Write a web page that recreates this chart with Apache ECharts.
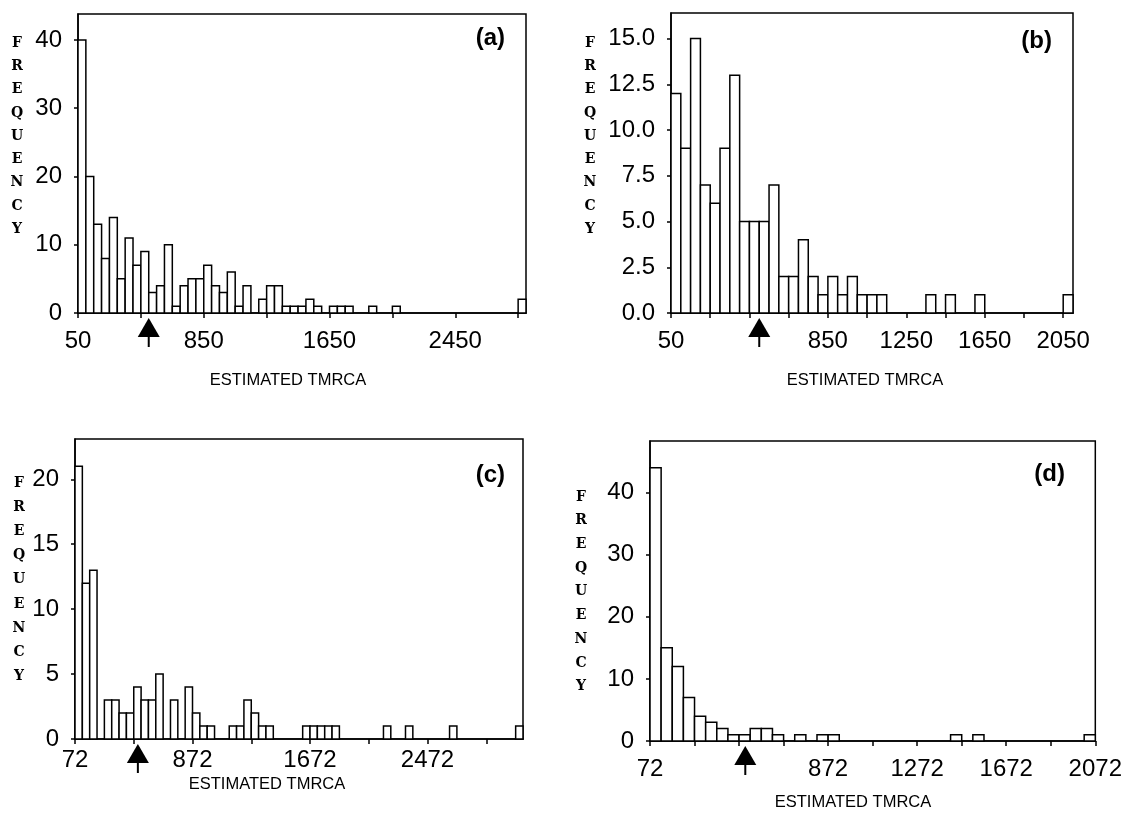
<!DOCTYPE html>
<html>
<head>
<meta charset="utf-8">
<script src="https://cdn.jsdelivr.net/npm/echarts@6/dist/echarts.min.js"></script>
<style>
  html, body { margin: 0; padding: 0; background: #fff; }
  #chart { width: 1125px; height: 821px; }
</style>
</head>
<body>
<div id="chart"></div>
<script>
// ---- data ----
const binWidth = 50;

const startA = 50;
const countsA = [40,20,13,8,14,5,11,7,9,3,4,10,1,4,5,5,7,4,3,6,1,4,0,2,4,4,1,1,1,2,1,0,1,1,1,0,0,1,0,0,1,
  0,0,0,0,0,0,0,0,0,0,0,0,0,0,0,2];
const startB = 50;
const countsB = [12,9,15,7,6,9,13,5,5,5,7,2,2,4,2,1,2,1,2,1,1,1,0,0,0,0,1,0,1,0,0,1,0,0,0,0,0,0,0,0,1];
const startC = 72;
const countsC = [21,12,13,0,3,3,2,2,4,3,3,5,0,3,0,4,2,1,1,0,0,1,1,3,2,1,1,0,0,0,0,1,1,1,1,1,0,0,0,0,0,0,1,0,0,1,
  0,0,0,0,0,1,0,0,0,0,0,0,0,0,1];
const startD = 72;
const countsD = [44,15,12,7,4,3,2,1,1,2,2,1,0,1,0,1,1,0,0,0,0,0,0,0,0,0,0,1,0,1,0,0,0,0,0,0,0,0,0,1];

const arrowValues = [500, 500, 500, 500];

const xTicksA = [50,450,850,1250,1650,2050,2450,2850];
const xLabelsA = [50,850,1650,2450];
const xTicksB = [50,250,450,650,850,1050,1250,1450,1650,1850,2050];
const xLabelsB = [50,850,1250,1650,2050];
const xTicksC = [72,472,872,1272,1672,2072,2472,2872];
const xLabelsC = [72,872,1672,2472];
const xTicksD = [72,272,472,672,872,1072,1272,1472,1672,1872,2072];
const xLabelsD = [72,872,1272,1672,2072];

const yTicksA = [0,10,20,30,40];
const yTicksB = [0,2.5,5,7.5,10,12.5,15];
const yTicksC = [0,5,10,15,20];
const yTicksD = [0,10,20,30,40];

const panelLetters = ['(a)','(b)','(c)','(d)'];
const yName = 'FREQUENCY';
const xName = 'ESTIMATED TMRCA';

// ---- layout ----
const panels = [
  {start:startA, counts:countsA, xmin:50, xmax:2900, ymax:43.8, xt:xTicksA, xl:xLabelsA, yt:yTicksA, yfmt:v=>String(v), xmargin:16,
   grid:{left:78, top:14, width:448, height:299}, yname:{x:17, y:43, lh:23.3}, xname:{x:288, y:380}, letter:{x:505, y:38}},
  {start:startB, counts:countsB, xmin:50, xmax:2100, ymax:16.4, xt:xTicksB, xl:xLabelsB, yt:yTicksB, yfmt:v=>v.toFixed(1), xmargin:16,
   grid:{left:671, top:13, width:402, height:300}, yname:{x:590, y:43, lh:23.3}, xname:{x:865, y:380}, letter:{x:1052, y:41}},
  {start:startC, counts:countsC, xmin:72, xmax:3122, ymax:23.1, xt:xTicksC, xl:xLabelsC, yt:yTicksC, yfmt:v=>String(v), xmargin:9,
   grid:{left:75, top:439, width:448, height:300}, yname:{x:19, y:483, lh:24.2}, xname:{x:267, y:784}, letter:{x:505, y:475}},
  {start:startD, counts:countsD, xmin:72, xmax:2072, ymax:48.3, xt:xTicksD, xl:xLabelsD, yt:yTicksD, yfmt:v=>String(v), xmargin:16,
   grid:{left:650, top:441, width:446, height:300}, yname:{x:581, y:497, lh:23.7}, xname:{x:853, y:802}, letter:{x:1065, y:474}}
];

const tickFont = '"Liberation Sans", Arial, sans-serif';
const grids = [], xAxes = [], yAxes = [], series = [], graphics = [];

function binData(start, counts) {
  const out = [];
  counts.forEach((c, i) => { if (c > 0) out.push([start + i * binWidth, start + (i + 1) * binWidth, c]); });
  return out;
}

panels.forEach((p, i) => {
  grids.push(Object.assign({show:true, borderColor:'#000', borderWidth:1.5, backgroundColor:'transparent'}, p.grid));
  xAxes.push({
    type:'value', gridIndex:i, min:p.xmin, max:p.xmax,
    axisLine:{show:true, onZero:false, lineStyle:{color:'#000', width:1.5}},
    axisTick:{show:true, length:5, customValues:p.xt, lineStyle:{color:'#000', width:1.5}},
    axisLabel:{show:true, customValues:p.xl, color:'#000', fontSize:24, fontFamily:tickFont, margin:p.xmargin,
      formatter:v=>String(v)},
    splitLine:{show:false}
  });
  yAxes.push({
    type:'value', gridIndex:i, min:0, max:p.ymax,
    axisLine:{show:true, lineStyle:{color:'#000', width:1.5}},
    axisTick:{show:true, length:4, customValues:p.yt, lineStyle:{color:'#000', width:1.5}},
    axisLabel:{show:true, customValues:p.yt, color:'#000', fontSize:24, fontFamily:tickFont, margin:16, formatter:p.yfmt},
    splitLine:{show:false}
  });
  series.push({
    type:'custom', xAxisIndex:i, yAxisIndex:i, data:binData(p.start, p.counts),
    renderItem:function(params, api){
      const a = api.coord([api.value(0), api.value(2)]);
      const b = api.coord([api.value(1), 0]);
      return {type:'rect', shape:{x:a[0], y:a[1], width:b[0]-a[0], height:b[1]-a[1]},
        style:{fill:'#fff', stroke:'#000', lineWidth:1.5}};
    }
  });
  series.push({
    type:'custom', xAxisIndex:i, yAxisIndex:i, clip:false, data:[[arrowValues[i]]],
    renderItem:function(params, api){
      const c = api.coord([api.value(0), 0]);
      return {type:'group', children:[
        {type:'polygon', shape:{points:[[c[0], c[1]+5],[c[0]-11, c[1]+24],[c[0]+11, c[1]+24]]}, style:{fill:'#000'}},
        {type:'line', shape:{x1:c[0], y1:c[1]+24, x2:c[0], y2:c[1]+34}, style:{stroke:'#000', lineWidth:2}}
      ]};
    }
  });
  graphics.push({type:'text', x:p.yname.x, y:p.yname.y - p.yname.lh/2,
    style:{text:yName.split('').join('\n'), font:'bold 14px "DejaVu Serif", "Liberation Serif", serif',
      lineHeight:p.yname.lh, textAlign:'center', textVerticalAlign:'top', fill:'#000'}});
  graphics.push({type:'text', x:p.xname.x, y:p.xname.y,
    style:{text:xName, font:'16.5px "Liberation Sans", Arial, sans-serif', textAlign:'center', textVerticalAlign:'middle', fill:'#000'}});
  graphics.push({type:'text', x:p.letter.x, y:p.letter.y,
    style:{text:panelLetters[i], font:'bold 24px "Liberation Sans", Arial, sans-serif', textAlign:'right', textVerticalAlign:'middle', fill:'#000'}});
});

const chart = echarts.init(document.getElementById('chart'), null, {renderer:'canvas'});
chart.setOption({
  animation:false,
  backgroundColor:'#fff',
  grid:grids, xAxis:xAxes, yAxis:yAxes, series:series, graphic:graphics
});
</script>
</body>
</html>
